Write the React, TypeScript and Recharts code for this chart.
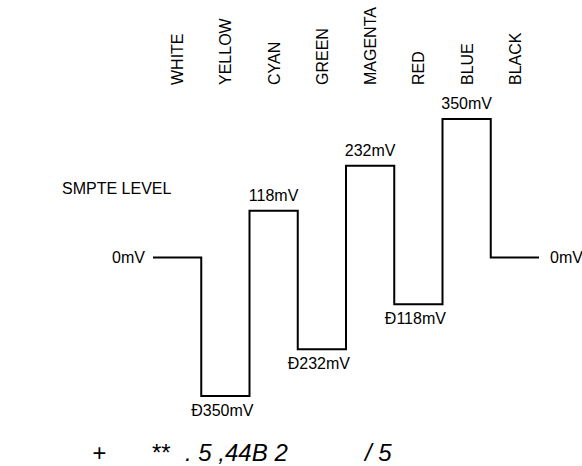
import { LineChart, Line, XAxis, YAxis, LabelList } from "recharts";

const categories = ["WHITE", "YELLOW", "CYAN", "GREEN", "MAGENTA", "RED", "BLUE", "BLACK"];
const levels = [0, -350, 118, -232, 232, -118, 350, 0];
const levelLabels = ["0mV", "Ð350mV", "118mV", "Ð232mV", "232mV", "Ð118mV", "350mV", "0mV"];
const footerParts = [
  { text: "+", x: 92 },
  { text: "**", x: 151 },
  { text: ". 5 ,44B 2", x: 185 },
  { text: "/ 5", x: 365 },
];

const font = "'Liberation Sans', Arial, sans-serif";

// step points sit on the bar boundaries, the last level is repeated to close the BLACK bar
const stepData = [
  ...levels.map((v, i) => ({ x: i, v })),
  { x: levels.length, v: levels[levels.length - 1] },
];
// centre of each inner bar, carries its label
const midData = levels
  .map((v, i) => ({ x: i + 0.5, v, label: levelLabels[i] }))
  .slice(1, levels.length - 1);
const tickValues = categories.map((_, i) => i + 0.5);

const CategoryTick = (props: any) => {
  const { x, y, payload } = props;
  const name = categories[Math.floor(payload.value)];
  return (
    <text
      x={x + 6}
      y={y}
      transform={`rotate(-90, ${x + 6}, ${y})`}
      textAnchor="start"
      fontSize={16}
      fontFamily={font}
      fill="#000"
    >
      {name}
    </text>
  );
};

const EndLabel = (props: any) => {
  const { x, y, index } = props;
  if (index === 0) {
    return (
      <text x={x - 8} y={y + 5.5} textAnchor="end" fontSize={16} fontFamily={font} fill="#000">
        {levelLabels[0]}
      </text>
    );
  }
  if (index === stepData.length - 1) {
    return (
      <text x={x + 11} y={y + 5.5} textAnchor="start" fontSize={16} fontFamily={font} fill="#000">
        {levelLabels[levelLabels.length - 1]}
      </text>
    );
  }
  return null;
};

const MidLabel = (props: any) => {
  const { x, y, index } = props;
  const d = midData[index];
  if (!d) return null;
  if (d.v >= 0) {
    return (
      <text x={x} y={y - 10} textAnchor="middle" fontSize={16} fontFamily={font} fill="#000">
        {d.label}
      </text>
    );
  }
  return (
    <text x={x - 3} y={y + 20} textAnchor="middle" fontSize={16} fontFamily={font} fill="#000">
      {d.label}
    </text>
  );
};

export default function App() {
  return (
    <div style={{ position: "absolute", left: 0, top: 0, width: 582, height: 466, background: "#fff" }}>
      <LineChart
        width={582}
        height={466}
        data={stepData}
        margin={{ top: 89, right: 43, bottom: 70, left: 153 }}
      >
        <XAxis
          dataKey="x"
          type="number"
          domain={[0, 8]}
          orientation="top"
          height={30}
          ticks={tickValues}
          tick={<CategoryTick />}
          tickSize={0}
          tickMargin={34}
          axisLine={false}
          tickLine={false}
          interval={0}
        />
        <YAxis type="number" domain={[-350, 350]} hide />
        <Line
          type="stepAfter"
          dataKey="v"
          stroke="#000"
          strokeWidth={2}
          dot={false}
          isAnimationActive={false}
        >
          <LabelList dataKey="v" content={<EndLabel />} />
        </Line>
        <Line
          data={midData}
          type="linear"
          dataKey="v"
          stroke="none"
          dot={false}
          isAnimationActive={false}
        >
          <LabelList dataKey="label" content={<MidLabel />} />
        </Line>
      </LineChart>
      <svg
        width={582}
        height={466}
        style={{ position: "absolute", left: 0, top: 0, pointerEvents: "none" }}
      >
        <text x={62} y={194} fontSize={16} fontFamily={font} fill="#000">
          SMPTE LEVEL
        </text>
        {footerParts.map((p) => (
          <text
            key={p.x}
            x={p.x}
            y={461}
            fontSize={24}
            fontStyle="italic"
            fontFamily={font}
            fill="#000"
            xmlSpace="preserve"
          >
            {p.text}
          </text>
        ))}
      </svg>
    </div>
  );
}
